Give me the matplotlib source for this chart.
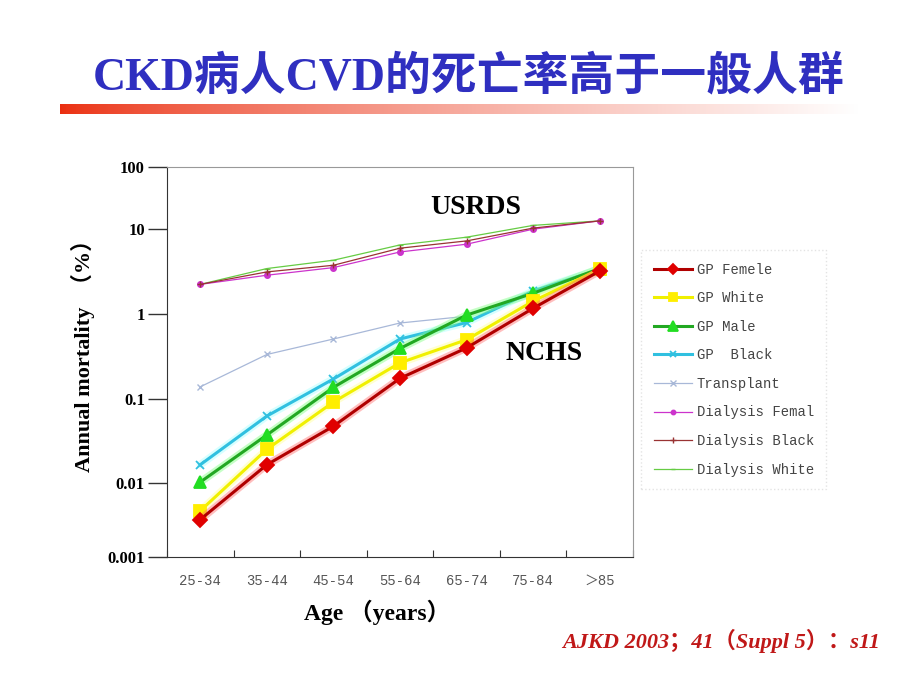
import numpy as np
import matplotlib
matplotlib.use('Agg')
import matplotlib.pyplot as plt

SERIF = ['Liberation Serif', 'Noto Sans CJK SC', 'DejaVu Sans']
MONO = ['Liberation Mono', 'Noto Sans CJK SC', 'DejaVu Sans']

ages = ['25-34', '35-44', '45-54', '55-64', '65-74', '75-84', '＞85']

gp_female = [0.0032, 0.0164, 0.047, 0.174, 0.40, 1.18, 3.23]
gp_white = [0.0042, 0.025, 0.091, 0.266, 0.50, 1.43, 3.40]
gp_male = [0.0102, 0.037, 0.136, 0.394, 0.98, 1.77, 3.45]
gp_black = [0.0164, 0.062, 0.171, 0.51, 0.80, 1.88, 3.38]
transplant = [0.138, 0.334, 0.51, 0.79, 0.95]
dial_female = [2.25, 2.88, 3.54, 5.4, 6.66, 10.0, 13.6]
dial_black = [2.25, 3.15, 3.77, 5.98, 7.28, 10.4, 13.6]
dial_white = [2.25, 3.45, 4.32, 6.53, 8.05, 11.5, 13.6]

ytick_vals = [0.001, 0.01, 0.1, 1, 10, 100]
ytick_labels = ['0.001', '0.01', '0.1', '1', '10', '100']

# the original axis is not evenly spaced per decade
decades = np.array([-3, -2, -1, 0, 1, 2])
dec_pos = np.array([0, 74, 158, 242, 327, 389], dtype=float)

def fwd(v):
    v = np.asarray(v, dtype=float)
    lv = np.log10(np.where(v > 0, v, 1e-6))
    return np.interp(lv, decades, dec_pos, left=-100, right=500)

def inv(p):
    return 10 ** np.interp(np.asarray(p, dtype=float), dec_pos, decades)

fig = plt.figure(figsize=(9.2, 6.9), dpi=100)

# title
fig.text(0.509, 0.887, 'CKD病人CVD的死亡率高于一般人群', ha='center', va='center',
         fontsize=33, fontweight='bold', color='#2f2fc0', family=SERIF)

# gradient bar under the title
gax = fig.add_axes([60 / 920, 1 - 114 / 690, 800 / 920, 10 / 690])
t = np.linspace(0, 1, 400) ** 0.75
c0 = np.array([0.92, 0.18, 0.06])
grad = c0[None, :] * (1 - t[:, None]) + np.ones(3)[None, :] * t[:, None]
gax.imshow(grad[None, :, :], aspect='auto', extent=(0, 1, 0, 1))
gax.axis('off')

ax = fig.add_axes([167 / 920, 1 - 557 / 690, 466 / 920, 390 / 690])
ax.set_yscale('function', functions=(fwd, inv))
x = np.arange(len(ages))

ax.plot(x, dial_white, color='#66cc44', lw=0.9, marker='_', ms=4, label='Dialysis White', zorder=3)
ax.plot(x, dial_female, color='#cc33cc', lw=0.9, marker='o', ms=4, label='Dialysis Femal', zorder=3)
ax.plot(x, dial_black, color='#993333', lw=0.9, marker='+', ms=5, label='Dialysis Black', zorder=3)
ax.plot(x[:len(transplant)], transplant, color='#a8b8d8', lw=0.9, marker='x', ms=5,
        label='Transplant', zorder=3)

gp = [(gp_black, '#30c0e0', '#a8ffff', 'x', 6, '#30c0e0', 'GP  Black', 4),
      (gp_male, '#22a822', '#80ff80', '^', 9, '#22dd22', 'GP Male', 5),
      (gp_white, '#f0f000', '#ffff99', 's', 8, '#ffee00', 'GP White', 5),
      (gp_female, '#b00000', '#ff7070', 'D', 7, '#e00000', 'GP Femele', 6)]
for vals, col, halo, mk, ms, mc, lab, z in gp:
    ax.plot(x, vals, color=halo, lw=5.5, alpha=0.45, solid_capstyle='round', zorder=z - 0.5)
    ax.plot(x, vals, color=col, lw=2.2, marker=mk, ms=ms, mfc=mc, mec=mc, mew=1.3,
            label=lab, zorder=z)

ax.set_xlim(-0.5, 6.5)
ax.set_ylim(0.001, 100)
ax.set_yticks(ytick_vals)
ax.set_yticklabels(ytick_labels, fontsize=12, fontweight='bold', family=SERIF)
ax.yaxis.set_minor_locator(matplotlib.ticker.NullLocator())
ax.tick_params(axis='y', direction='out', length=14, width=1, pad=2, color='#333333')

ax.set_xticks(np.arange(-0.5, 7, 1))
ax.set_xticklabels([])
ax.set_xticks(x, minor=True)
ax.set_xticklabels(ages, minor=True, fontsize=10, family=MONO, color='#555555')
ax.tick_params(axis='x', which='major', direction='in', length=5, color='#333333')
ax.tick_params(axis='x', which='minor', length=0, pad=12)

for s in ['left', 'bottom']:
    ax.spines[s].set_color('#333333')
for s in ['top', 'right']:
    ax.spines[s].set_color('#999999')

ax.set_ylabel('Annual mortality  （%）', fontsize=16, fontweight='bold', family=SERIF,
              va='center', ha='center')
ax.yaxis.set_label_coords(-0.18, 0.53)
ax.set_xlabel('Age （years）', fontsize=17, fontweight='bold', family=SERIF,
              va='center', ha='center')
ax.xaxis.set_label_coords(0.45, -0.141)

ax.text(4.14, 22, 'USRDS', fontsize=20, fontweight='bold', family=SERIF, ha='center', va='center')
ax.text(5.16, 0.34, 'NCHS', fontsize=20, fontweight='bold', family=SERIF, ha='center', va='center')

handles, labels = ax.get_legend_handles_labels()
order = ['GP Femele', 'GP White', 'GP Male', 'GP  Black', 'Transplant',
         'Dialysis Femal', 'Dialysis Black', 'Dialysis White']
hmap = dict(zip(labels, handles))
leg = fig.legend([hmap[k] for k in order], order, loc='upper left',
                 bbox_to_anchor=(641 / 920, 1 - 250 / 690), frameon=True, fancybox=False,
                 prop={'family': MONO, 'size': 10}, labelspacing=1.05, handlelength=2.8,
                 handletextpad=0.3, borderpad=0.9, borderaxespad=0, markerscale=0.8)
leg.get_frame().set_edgecolor('#dddddd')
leg.get_frame().set_linestyle(':')
for txt in leg.get_texts():
    txt.set_color('#444444')

fig.text(880 / 920, 1 - 641 / 690, 'AJKD 2003；41（Suppl 5）：s11', ha='right', va='center',
         fontsize=16, fontweight='bold', style='italic', color='#c01818', family=SERIF)

fig.savefig('out.png', dpi=100)
